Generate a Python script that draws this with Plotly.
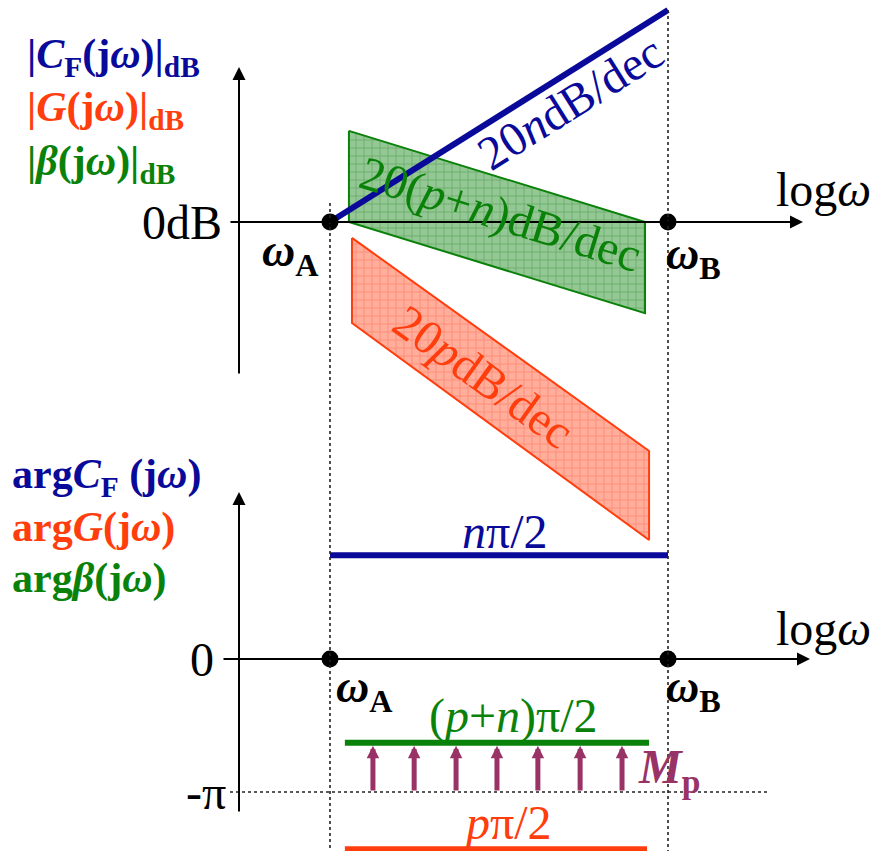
import math
import plotly.graph_objects as go

W, H = 877, 851

# ---------------- data ----------------
# frequency axis: log10(omega) in decades, measured from omega_A
CORNER_LOGW = [0.0, 1.0]
CORNER_NAMES = ["A", "B"]

# magnitude asymptotes (dB)
CF_LOGW = [0.0, 1.0]
CF_DB = [0.0, 60.0]

BETA_LOGW = [0.056, 0.932]
BETA_UPPER_DB = [25.8, 0.0]
BETA_LOWER_DB = [0.0, -25.8]

G_LOGW = [0.065, 0.944]
G_UPPER_DB = [-4.5, -64.8]
G_LOWER_DB = [-28.6, -90.0]

# phase asymptotes, in units of pi
PHASE_KEYS = ["CF", "beta", "G"]
PHASE_LEVEL_PI = [0.78, -0.63, -1.43]
PHASE_START = [0.0, 0.044, 0.044]
PHASE_END = [1.0, 0.944, 0.938]
PHASE_LIMIT_PI = -1.0
MARGIN_LOGW = [0.127, 0.249, 0.373, 0.494, 0.615, 0.740, 0.864]

# ---------------- styling / scales ----------------
BLUE = "#0a0a9a"
RED = "#ff3d0d"
GREEN = "#0a820a"
PURPLE = "#993366"
FONT = "Liberation Serif"

X_ORIGIN_PX, PX_PER_DEC = 330.0, 338.0
MAG_ZERO_PX, PX_PER_DB = 222.0, 212.0 / 60.0
PH_ZERO_PX, PX_PER_PI = 659.0, 133.0

x_range = [-X_ORIGIN_PX / PX_PER_DEC, (W - X_ORIGIN_PX) / PX_PER_DEC]
mag_range = [-(H - MAG_ZERO_PX) / PX_PER_DB, MAG_ZERO_PX / PX_PER_DB]
ph_range = [-(H - PH_ZERO_PX) / PX_PER_PI, PH_ZERO_PX / PX_PER_PI]


def xd(px):
    return (px - X_ORIGIN_PX) / PX_PER_DEC


def magd(py):
    return (MAG_ZERO_PX - py) / PX_PER_DB


def phd(py):
    return (PH_ZERO_PX - py) / PX_PER_PI


def slope_angle(x, y):
    dx = (x[1] - x[0]) * PX_PER_DEC
    dy = (y[1] - y[0]) * PX_PER_DB
    return -math.degrees(math.atan2(dy, dx))


def paper(px, py):
    return px / W, 1 - py / H


fig = go.Figure()

# ---- magnitude bands ----
def band(xs, up, lo, line_col, fill_col, pat_col):
    fig.add_trace(go.Scatter(
        x=[xs[0], xs[1], xs[1], xs[0], xs[0]],
        y=[up[0], up[1], lo[1], lo[0], up[0]],
        mode="lines", fill="toself", fillcolor=fill_col,
        fillpattern=dict(shape="+", size=8, solidity=0.16,
                         fgcolor=pat_col, fillmode="overlay"),
        line=dict(color=line_col, width=2), hoverinfo="skip", showlegend=False))


band(BETA_LOGW, BETA_UPPER_DB, BETA_LOWER_DB, GREEN,
     "rgba(80,165,80,0.62)", "rgba(20,120,20,0.8)")
band(G_LOGW, G_UPPER_DB, G_LOWER_DB, RED,
     "rgba(255,120,90,0.6)", "rgba(255,60,20,0.8)")

fig.add_trace(go.Scatter(x=CF_LOGW, y=CF_DB, mode="lines",
                         line=dict(color=BLUE, width=6), showlegend=False))

# ---- phase asymptotes ----
phase_colors = {"CF": BLUE, "beta": GREEN, "G": RED}
for key, lvl, x0, x1 in zip(PHASE_KEYS, PHASE_LEVEL_PI, PHASE_START, PHASE_END):
    fig.add_trace(go.Scatter(x=[x0, x1], y=[lvl, lvl], yaxis="y2", mode="lines",
                             line=dict(color=phase_colors[key], width=6),
                             showlegend=False))

# ---- corner-frequency dots ----
for yax in ["y", "y2"]:
    fig.add_trace(go.Scatter(x=CORNER_LOGW, y=[0, 0], yaxis=yax, mode="markers",
                             marker=dict(color="black", size=17), showlegend=False))

shapes = []
# dotted guides through omega_A and omega_B
shapes.append(dict(type="line", xref="x", yref="y", x0=CORNER_LOGW[0], x1=CORNER_LOGW[0],
                   y0=magd(203), y1=mag_range[0],
                   line=dict(color="#222222", width=1.6, dash="dot")))
shapes.append(dict(type="line", xref="x", yref="y", x0=CORNER_LOGW[1], x1=CORNER_LOGW[1],
                   y0=CF_DB[1], y1=mag_range[0],
                   line=dict(color="#222222", width=1.6, dash="dot")))
# -pi guide
shapes.append(dict(type="line", xref="x", yref="y2", x0=xd(230), x1=xd(770),
                   y0=PHASE_LIMIT_PI, y1=PHASE_LIMIT_PI,
                   line=dict(color="#222222", width=1.6, dash="dot")))

ann = []


def arrow(x_tip, y_tip, x_tail, y_tail, yref, color="black", width=2, size=1.3):
    ann.append(dict(x=x_tip, y=y_tip, ax=x_tail, ay=y_tail, xref="x", yref=yref,
                    axref="x", ayref=yref, text="", showarrow=True, arrowhead=2,
                    arrowsize=size, arrowwidth=width, arrowcolor=color, standoff=0))


# axes with arrowheads
arrow(xd(239), magd(67), xd(239), magd(375), "y")
arrow(xd(803), 0, xd(229), 0, "y")
arrow(xd(239), phd(492), xd(239), phd(813), "y2")
arrow(xd(810), 0, xd(222), 0, "y2")

# phase margin arrows
beta_lvl = PHASE_LEVEL_PI[PHASE_KEYS.index("beta")]
for m in MARGIN_LOGW:
    arrow(m, beta_lvl - 3 / PX_PER_PI, m, PHASE_LIMIT_PI, "y2",
          color=PURPLE, width=5, size=0.5)


def label(text, px, py, color="black", size=48, xanchor="center", angle=0):
    x, y = paper(px, py)
    ann.append(dict(text=text, x=x, y=y, xref="paper", yref="paper",
                    xanchor=xanchor, yanchor="middle", showarrow=False,
                    textangle=angle, font=dict(family=FONT, size=size, color=color)))


# left legends
label("<b>|<i>C</i><sub>F</sub>(j<i>ω</i>)|<sub>dB</sub></b>", 25, 57, BLUE, 42, "left")
label("<b>|<i>G</i>(j<i>ω</i>)|<sub>dB</sub></b>", 25, 110, RED, 42, "left")
label("<b>|<i>β</i>(j<i>ω</i>)|<sub>dB</sub></b>", 25, 164, GREEN, 42, "left")
label("<b>arg<i>C</i><sub>F</sub> (j<i>ω</i>)</b>", 10, 477, BLUE, 42, "left")
label("<b>arg<i>G</i>(j<i>ω</i>)</b>", 10, 527, RED, 42, "left")
label("<b>arg<i>β</i>(j<i>ω</i>)</b>", 10, 578, GREEN, 42, "left")

# axis labels
label("0dB", 224, 222, "black", 48, "right")
label("0", 216, 659, "black", 48, "right")
label("-π", 228, 792, "black", 48, "right")
label("log<i>ω</i>", 823, 190, "black", 48)
label("log<i>ω</i>", 823, 628, "black", 48)

label("<b><i>ω</i><sub>A</sub></b>", 290, 254, "black", 46)
label("<b><i>ω</i><sub>B</sub></b>", 693, 257, "black", 46)
label("<b><i>ω</i><sub>A</sub></b>", 364, 690, "black", 46)
label("<b><i>ω</i><sub>B</sub></b>", 693, 690, "black", 46)

# slope labels along the asymptotes
label("20<i>n</i>dB/dec", 570, 102, BLUE, 48, angle=slope_angle(CF_LOGW, CF_DB))
label("20(<i>p</i>+<i>n</i>)dB/dec", 500, 214, GREEN, 48,
      angle=slope_angle(BETA_LOGW, BETA_UPPER_DB))
label("20<i>p</i>dB/dec", 484, 376, RED, 48, angle=slope_angle(G_LOGW, G_UPPER_DB))

# phase level labels
label("<i>n</i>π/2", 505, 531, BLUE, 48)
label("(<i>p</i>+<i>n</i>)π/2", 513, 716, GREEN, 48)
label("<i>p</i>π/2", 507, 822, RED, 48)
label("<b><i>M</i><sub>p</sub></b>", 636, 770, PURPLE, 48, "left")

fig.update_layout(
    width=W, height=H, margin=dict(l=0, r=0, t=0, b=0),
    paper_bgcolor="white", plot_bgcolor="white",
    xaxis=dict(range=x_range, visible=False, fixedrange=True),
    yaxis=dict(range=mag_range, visible=False, fixedrange=True),
    yaxis2=dict(range=ph_range, visible=False, overlaying="y", fixedrange=True),
    shapes=shapes, annotations=ann, showlegend=False,
)

fig.write_html("out.html")
